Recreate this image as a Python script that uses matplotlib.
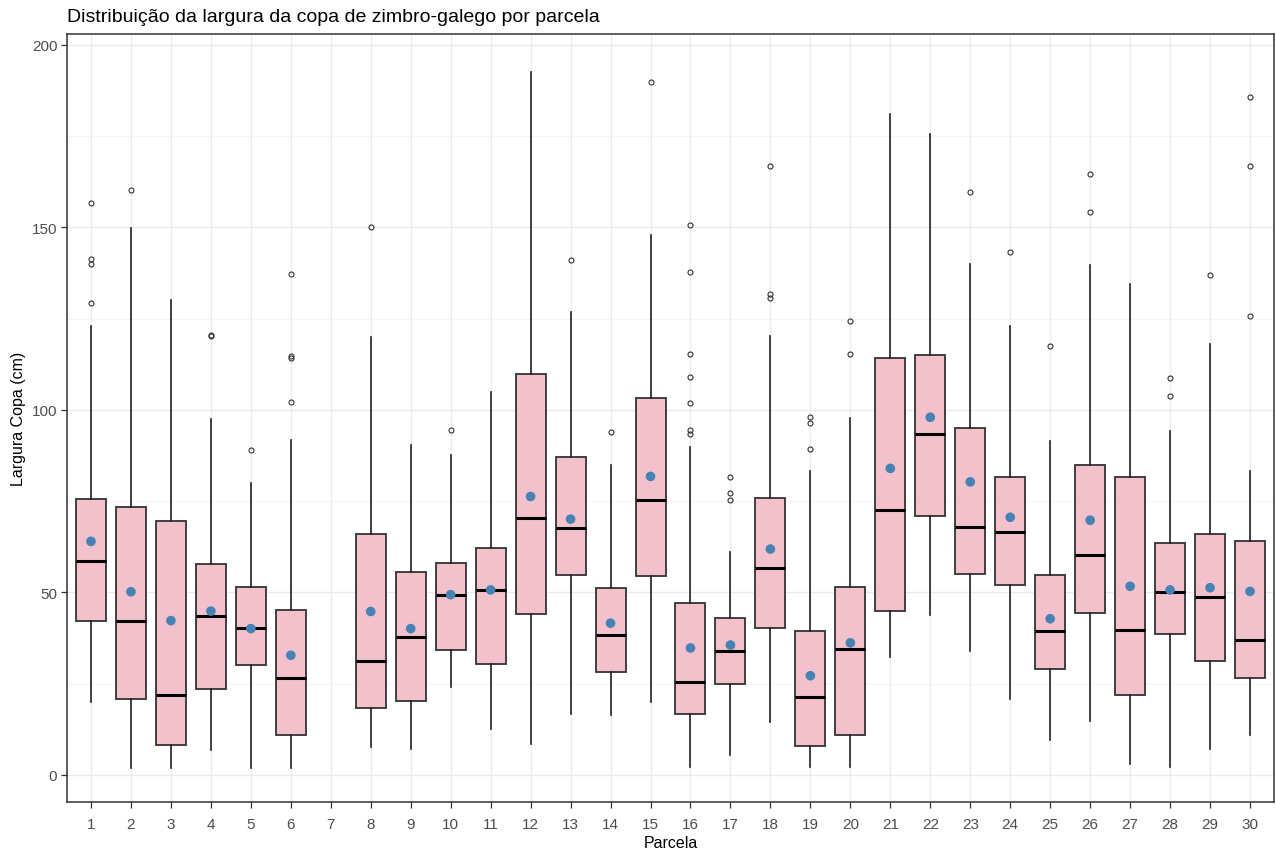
import matplotlib.pyplot as plt
from matplotlib.ticker import MultipleLocator
import numpy as np

plt.rcParams['font.family'] = ['Liberation Sans', 'DejaVu Sans']

# parcelas 1..30 (parcela 7 sem dados -> None)
parcelas = list(range(1, 31))
whislo = [19.9, 2.0, 2.0, 6.8, 2.0, 2.0, None, 7.8, 7.2, 24.1, 12.5, 8.5, 16.8, 16.3, 19.9,
          2.2, 5.4, 14.4, 2.2, 2.2, 32.2, 43.7, 33.9, 20.9, 9.7, 14.8, 3.1, 2.2, 7.1, 10.9]
q1 = [42.3, 20.9, 8.3, 23.5, 30.0, 10.9, None, 18.4, 20.2, 34.3, 30.3, 44.1, 54.7, 28.2, 54.6,
      16.8, 24.9, 40.2, 8.0, 10.9, 44.9, 70.9, 55.0, 52.1, 29.0, 44.5, 22.0, 38.5, 31.2, 26.5]
mediana = [58.7, 42.2, 21.8, 43.5, 40.3, 26.6, None, 31.1, 37.7, 49.3, 50.8, 70.3, 67.8, 38.3, 75.2,
           25.6, 33.9, 56.8, 21.5, 34.6, 72.6, 93.3, 68.0, 66.7, 39.4, 60.4, 39.6, 50.1, 48.7, 37.1]
q3 = [75.6, 73.3, 69.7, 57.8, 51.4, 45.2, None, 66.1, 55.7, 58.2, 62.2, 109.9, 87.0, 51.3, 103.4,
      47.0, 43.0, 75.9, 39.4, 51.6, 114.2, 115.0, 95.1, 81.6, 54.9, 84.9, 81.6, 63.6, 66.1, 64.0]
whishi = [123.0, 149.8, 130.1, 97.6, 79.9, 91.8, None, 120.0, 90.5, 87.8, 104.9, 192.6, 126.9, 85.0, 148.0,
          89.9, 61.2, 120.2, 83.3, 97.8, 181.2, 175.5, 140.0, 123.1, 91.5, 139.8, 134.4, 94.2, 118.0, 83.3]
media = [64.0, 50.2, 42.3, 44.9, 40.1, 32.8, None, 44.8, 40.1, 49.4, 50.7, 76.3, 70.1, 41.6, 81.8,
         34.8, 35.6, 61.9, 27.2, 36.2, 84.0, 98.0, 80.3, 70.6, 42.8, 69.8, 51.7, 50.7, 51.3, 50.3]
outliers = [
    [156.7, 141.3, 140.1, 129.2], [160.3], [], [120.3, 120.6], [89.1], [137.2, 114.8, 114.2, 102.2],
    [], [150.2], [], [94.4], [], [], [141.1], [94.1], [189.8],
    [150.7, 137.8, 115.2, 109.1, 101.8, 94.6, 93.4], [81.6, 77.3, 75.2], [166.9, 131.9, 130.7],
    [98.0, 96.5, 89.2], [124.3, 115.2], [], [], [159.8], [143.4], [117.5], [164.7, 154.2], [],
    [108.8, 103.7], [137.0], [185.8, 166.9, 125.7],
]

stats = []
pos = []
for i, p in enumerate(parcelas):
    if mediana[i] is None:
        continue
    stats.append(dict(whislo=whislo[i], q1=q1[i], med=mediana[i], q3=q3[i],
                      whishi=whishi[i], fliers=outliers[i]))
    pos.append(p)

fig = plt.figure(figsize=(12.76, 8.54), dpi=100)
ax = fig.add_axes([67 / 1276, 51 / 854, 1207 / 1276, 768 / 854])

ax.bxp(stats, positions=pos, widths=0.75, showcaps=False, patch_artist=True,
       boxprops=dict(facecolor='#F2C1CC', edgecolor='#333333', linewidth=1.3),
       medianprops=dict(color='black', linewidth=2.2),
       whiskerprops=dict(color='#222222', linewidth=1.2),
       flierprops=dict(marker='o', markersize=3.6, markerfacecolor='none',
                       markeredgecolor='#333333', markeredgewidth=0.8),
       zorder=3)

mx = [p for p, m in zip(parcelas, media) if m is not None]
my = [m for m in media if m is not None]
ax.scatter(mx, my, s=48, color='#4682B4', zorder=5, edgecolors='none')

ax.set_xlim(0.4, 30.6)
ax.set_ylim(-7.4, 203)
ax.set_xticks(parcelas)
ax.set_xticklabels([str(p) for p in parcelas])
ax.yaxis.set_major_locator(MultipleLocator(50))
ax.yaxis.set_minor_locator(MultipleLocator(25))
ax.grid(True, which='major', color='#EBEBEB', linewidth=1.0, zorder=0)
ax.grid(True, which='minor', axis='y', color='#F2F2F2', linewidth=0.6, zorder=0)
ax.set_axisbelow(True)
ax.tick_params(axis='both', which='major', labelsize=11, labelcolor='#4D4D4D',
               color='#333333', length=4, width=0.9, pad=3)
ax.tick_params(axis='x', which='major', pad=7)
ax.tick_params(axis='y', which='minor', length=0)
for s in ax.spines.values():
    s.set_color('#333333')
    s.set_linewidth(1.1)

ax.set_xlabel('Parcela', fontsize=11.5, labelpad=3)
ax.set_ylabel('Largura Copa (cm)', fontsize=11.5, labelpad=4)
fig.text(67 / 1276, 1 - 18 / 854, 'Distribuição da largura da copa de zimbro-galego por parcela',
         fontsize=14, va='center', ha='left')

fig.savefig('out.png', dpi=100)
